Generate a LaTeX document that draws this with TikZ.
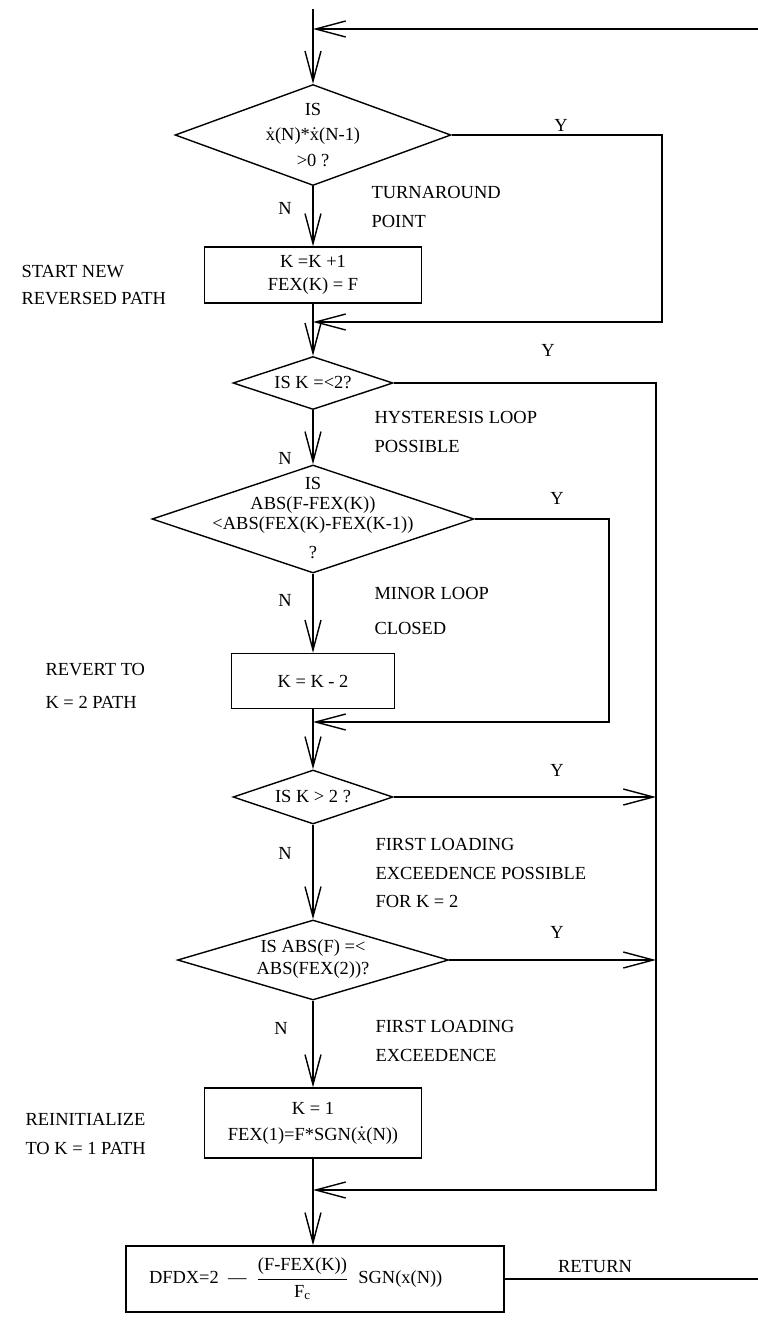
\documentclass[tikz,border=0pt]{standalone}
\usepackage{fontspec}
\setmainfont{Liberation Serif}
\usepackage{amsmath}
\usetikzlibrary{shapes.geometric, arrows.meta}
\newcommand{\xd}{$\dot{\text{x}}$}

\begin{document}
\begin{tikzpicture}[x=0.02cm, y=-0.02cm, line width=0.8pt,
    >={Straight Barb[length=0.6cm, width=0.32cm]},
    every node/.style={font=\fontsize{10.5}{12.5}\selectfont},
    dec/.style={draw, diamond, inner sep=0pt},
    box/.style={draw, rectangle, inner sep=0pt, align=center, font=\fontsize{10.5}{13}\selectfont},
    note/.style={anchor=west, align=left, font=\fontsize{10.5}{16.4}\selectfont}]
    \useasboundingbox (0,0) rectangle (758,1320);

    \node[dec, minimum width=5.52cm, minimum height=2.02cm] (d1) at (313,135) {};
    \node[align=center, font=\fontsize{10.5}{14.5}\selectfont] (d1t) at (313,135) {IS\\ \xd(N)*\xd(N-1)\\ >0 ?};
    \node[box, minimum width=4.34cm, minimum height=1.12cm] (b1) at (313,275) {K =K +1\\ FEX(K) = F};
    \node[dec, minimum width=3.2cm, minimum height=1.06cm] (d2) at (313,383) {};
    \node (d2t) at (313,383) {IS K =<2?};
    \node[dec, minimum width=6.44cm, minimum height=2.16cm] (d3) at (313,519) {};
    \node[align=center, font=\fontsize{10.5}{11.3}\selectfont] (d3t) at (313,518) {IS\\ ABS(F-FEX(K))\\ <ABS(FEX(K)-FEX(K-1))\\[5pt] ?};
    \node[box, minimum width=3.26cm, minimum height=1.1cm] (b2) at (313,681) {K = K - 2};
    \node[dec, minimum width=3.2cm, minimum height=1.08cm] (d4) at (313,797) {};
    \node (d4t) at (313,797) {IS K > 2 ?};
    \node[dec, minimum width=5.42cm, minimum height=1.6cm] (d5) at (313,960) {};
    \node[align=center, font=\fontsize{10.5}{12.5}\selectfont] (d5t) at (313,959) {IS ABS(F) =<\\ ABS(FEX(2))?};
    \node[box, minimum width=4.34cm, minimum height=1.4cm, font=\fontsize{10.5}{14.7}\selectfont] (b3) at (313,1123) {K = 1\\ FEX(1)=F*SGN(\xd(N))};
    \node[box, minimum width=7.56cm, minimum height=1.32cm, text width=6.64cm, inner xsep=0.46cm, align=left] (b4) at (315,1279)
        {DFDX=2\enspace---\enspace$\dfrac{\text{(F-FEX(K))}}{\text{F}_{\text{c}}}$\enspace SGN(x(N))};

    \coordinate (top) at (313,9);
    \coordinate (m1) at (313,29);
    \coordinate (r1) at (758,29);
    \coordinate (m2) at (313,322);
    \coordinate (m3) at (313,722);
    \coordinate (m4) at (313,1190);
    \coordinate (c1) at (662,322);
    \coordinate (c2) at (656,1190);
    \coordinate (c3) at (609,722);
    \coordinate (ret) at (758,1279);

    \draw[->] (top) -- (d1.north);
    \draw[->] (r1) -- (m1);
    \draw[->] (d1.south) -- (b1.north);
    \draw[->] (d1.east) -| (c1) -- (m2);
    \draw[->] (b1.south) -- (d2.north);
    \draw[->] (d2.east) -| (c2) -- (m4);
    \draw[->] (d2.south) -- (d3.north);
    \draw[->] (d3.east) -| (c3) -- (m3);
    \draw[->] (d3.south) -- (b2.north);
    \draw[->] (b2.south) -- (d4.north);
    \draw[->] (d4.east) -- (d4.east -| c2);
    \draw[->] (d4.south) -- (d5.north);
    \draw[->] (d5.east) -- (d5.east -| c2);
    \draw[->] (d5.south) -- (b3.north);
    \draw[->] (b3.south) -- (b3.south |- b4.north);
    \draw (b4.east) -- (ret);

    \node (y1) at (561,125) {Y};
    \node (y2) at (548,350) {Y};
    \node (y3) at (557,498) {Y};
    \node (y4) at (557,770) {Y};
    \node (y5) at (557,932) {Y};
    \node (n1) at (285,208) {N};
    \node (n2) at (285,458) {N};
    \node (n3) at (285,600) {N};
    \node (n4) at (285,853) {N};
    \node (n5) at (281,1028) {N};
    \node (rtn) at (595,1267) {RETURN};

    \node[note] (turn) at (365,207) {TURNAROUND\\ POINT};
    \node[note] (hyst) at (368,432) {HYSTERESIS  LOOP\\ POSSIBLE};
    \node[note] (minor) at (368,611) {MINOR LOOP\\[4pt] CLOSED};
    \node[note] (first) at (369,873) {FIRST LOADING\\ EXCEEDENCE POSSIBLE\\ FOR K = 2};
    \node[note] (exceed) at (369,1041) {FIRST LOADING\\ EXCEEDENCE};
    \node[note] (start) at (15,285) {START  NEW\\[-1pt] REVERSED PATH};
    \node[note] (revert) at (39,686) {REVERT TO\\[2.3pt] K = 2 PATH};
    \node[note] (reinit) at (19,1134) {REINITIALIZE\\ TO K = 1 PATH};
\end{tikzpicture}
\end{document}
